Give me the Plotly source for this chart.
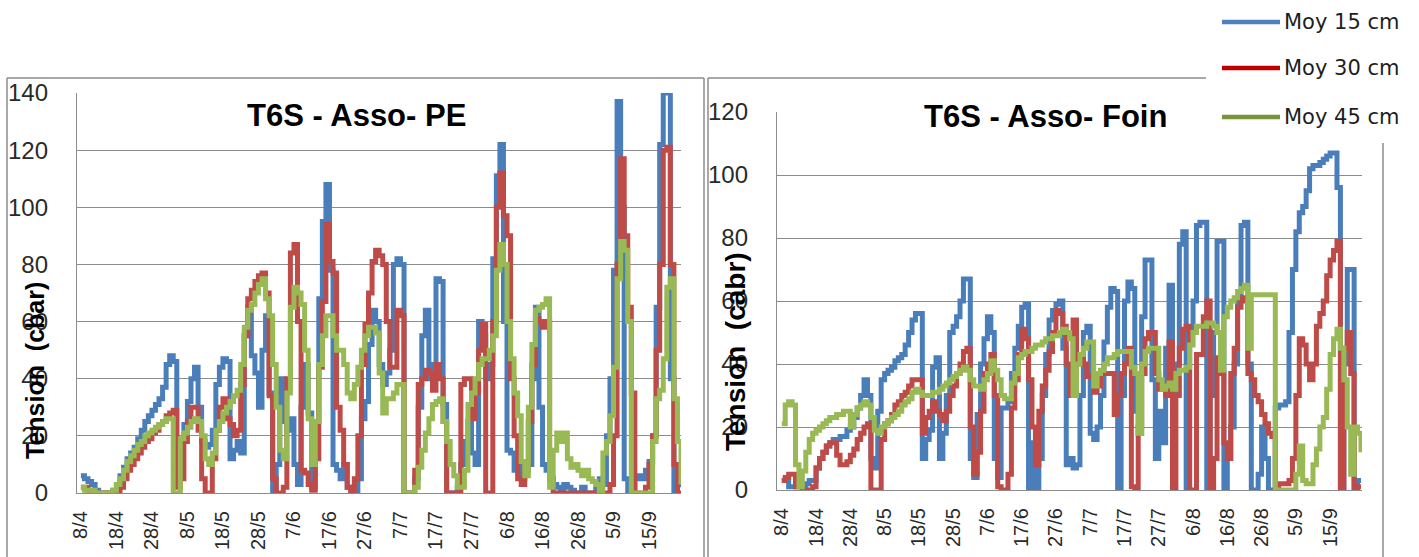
import pandas as pd
import plotly.graph_objects as go

# ---------------- data (daily values from 8/4) ----------------
start_date = "2013-04-08"
n_days = 170
tick_labels = ["8/4", "18/4", "28/4", "8/5", "18/5", "28/5", "7/6", "17/6", "27/6",
               "7/7", "17/7", "27/7", "6/8", "16/8", "26/8", "5/9", "15/9"]
series_names = ["Moy 15 cm", "Moy 30 cm", "Moy 45 cm"]

# T6S - Asso- PE
pe_15 = [6, 5, 4, 3, 1, 0, 0, 0, 0, 1,
         3, 6, 9, 12, 14, 16, 19, 22, 25, 27,
         29, 31, 33, 37, 45, 48, 46, 14, 18, 24,
         32, 40, 44, 30, 18, 16, 17, 22, 38, 44,
         47, 46, 12, 15, 18, 14, 55, 65, 48, 42,
         30, 50, 62, 35, 0, 10, 40, 25, 22, 26,
         10, 3, 30, 45, 28, 2, 25, 68, 95, 108,
         78, 10, 8, 5, 10, 2, 0, 0, 5, 26,
         32, 52, 64, 60, 45, 38, 42, 50, 80, 82,
         80, 0, 0, 0, 5, 30, 55, 64, 40, 45,
         75, 74, 31, 0, 0, 0, 2, 10, 18, 25,
         14, 10, 60, 55, 40, 45, 82, 111, 122, 60,
         15, 14, 8, 10, 5, 8, 10, 40, 65, 30,
         10, 8, 5, 3, 2, 0, 3, 2, 1, 0,
         0, 2, 0, 0, 0, 2, 5, 3, 20, 40,
         78, 137, 100, 5, 0, 2, 5, 6, 5, 8,
         11, 20, 65, 122, 140, 142, 40, 0, 5, 2]
pe_30 = [2, 2, 1, 1, 0, 0, 0, 0, 0, 0,
         0, 2, 5, 8, 10, 12, 14, 16, 18, 19,
         21, 22, 24, 25, 27, 28, 29, 2, 5, 18,
         25, 30, 30, 22, 5, 0, 0, 12, 22, 30,
         33, 26, 24, 20, 22, 38, 55, 68, 71, 74,
         76, 77, 70, 34, 5, 0, 0, 2, 40, 84,
         87, 60, 8, 7, 3, 1, 12, 44, 67, 94,
         81, 77, 30, 22, 10, 2, 0, 5, 20, 45,
         59, 70, 81, 85, 83, 80, 60, 44, 44, 64,
         62, 0, 0, 0, 8, 38, 40, 43, 42, 36,
         45, 40, 25, 0, 0, 0, 0, 38, 40, 40,
         26, 35, 50, 59, 0, 0, 60, 100, 112, 97,
         90, 40, 20, 5, 3, 10, 25, 45, 61, 60,
         58, 60, 5, 0, 0, 0, 0, 0, 0, 0,
         0, 0, 0, 0, 0, 0, 0, 0, 0, 3,
         20, 80, 117, 90, 65, 35, 0, 0, 0, 2,
         10, 20, 50, 80, 120, 121, 80, 10, 0, 0]
pe_45 = [2, 1, 1, 1, 0, 0, 0, 0, 0, 1,
         3, 5, 8, 11, 13, 15, 17, 18, 20, 21,
         22, 23, 24, 25, 26, 26, 0, 0, 19, 21,
         23, 25, 26, 25, 20, 12, 10, 14, 22, 25,
         28, 30, 32, 34, 36, 45, 58, 64, 66, 70,
         73, 75, 68, 62, 45, 30, 15, 12, 35, 65,
         72, 70, 66, 50, 26, 10, 25, 45, 55, 62,
         62, 55, 50, 50, 45, 35, 33, 38, 44, 50,
         55, 58, 58, 56, 42, 28, 33, 33, 35, 38,
         38, 0, 0, 0, 2, 9, 15, 21, 26, 31,
         32, 33, 25, 18, 10, 6, 2, 2, 8, 31,
         35, 40, 45, 47, 47, 50, 55, 78, 87, 80,
         60, 47, 35, 27, 11, 6, 30, 52, 64, 65,
         66, 68, 2, 15, 21, 18, 21, 12, 9, 10,
         8, 6, 8, 5, 4, 3, 0, 14, 18, 27,
         44, 75, 88, 85, 60, 0, 0, 0, 0, 0,
         0, 18, 33, 36, 47, 72, 75, 33, 18, 3]

# T6S - Asso- Foin
foin_15 = [3, 3, 1, 1, 1, 1, 1, 2, 3, 3,
           7, 10, 12, 14, 15, 16, 16, 17, 17, 19,
           20, 23, 26, 30, 35, 30, 10, 7, 25, 35,
           37, 38, 39, 41, 42, 43, 46, 50, 54, 56,
           56, 10, 16, 19, 39, 42, 10, 18, 30, 50,
           52, 55, 60, 67, 67, 10, 4, 24, 40, 48,
           55, 50, 10, 4, 26, 26, 28, 37, 45, 52,
           58, 59, 0, 15, 0, 10, 30, 43, 54, 57,
           59, 60, 45, 8, 10, 7, 8, 30, 50, 52,
           18, 16, 20, 30, 47, 58, 64, 63, 0, 30,
           60, 66, 64, 25, 18, 55, 73, 73, 35, 10,
           25, 15, 45, 65, 30, 40, 78, 82, 0, 50,
           60, 84, 85, 85, 0, 30, 50, 79, 79, 0,
           10, 20, 40, 60, 84, 85, 40, 0, 0, 5,
           20, 10, 0, 0, 26, 27, 27, 28, 50, 70,
           82, 88, 90, 95, 102, 103, 103, 104, 105, 106,
           107, 107, 96, 0, 40, 70, 70, 0, 3, 3]
foin_30 = [3, 4, 5, 5, 1, 1, 0, 0, 0, 1,
           7, 10, 12, 14, 15, 15, 11, 8, 8, 9,
           11, 13, 16, 18, 20, 21, 0, 0, 0, 16,
           21, 22, 24, 27, 28, 30, 31, 33, 35, 35,
           35, 18, 23, 25, 28, 25, 24, 22, 25, 30,
           33, 37, 40, 44, 45, 20, 5, 12, 25, 37,
           40, 43, 30, 1, 0, 0, 5, 26, 35, 43,
           51, 48, 35, 20, 8, 25, 33, 38, 44, 50,
           57, 56, 52, 40, 30, 54, 40, 42, 40, 36,
           36, 31, 33, 37, 37, 37, 37, 24, 30, 37,
           40, 45, 1, 0, 20, 37, 48, 50, 50, 37,
           32, 32, 30, 47, 0, 30, 45, 51, 52, 0,
           0, 43, 43, 55, 60, 0, 10, 42, 37, 15,
           10, 37, 45, 58, 61, 60, 37, 35, 30, 28,
           24, 21, 18, 17, 0, 2, 2, 2, 3, 10,
           30, 48, 46, 40, 35, 40, 52, 56, 60, 68,
           73, 76, 79, 0, 45, 50, 37, 0, 1, 1]
foin_45 = [21, 27, 28, 27, 8, 1, 6, 12, 16, 18,
           19, 20, 21, 22, 23, 23, 24, 24, 25, 25,
           20, 24, 26, 27, 28, 27, 23, 19, 18, 20,
           21, 22, 23, 24, 25, 27, 28, 29, 31, 32,
           31, 30, 30, 30, 31, 31, 32, 33, 34, 35,
           36, 37, 38, 39, 38, 35, 33, 33, 32, 35,
           37, 41, 38, 35, 30, 29, 29, 34, 37, 42,
           43, 44, 44, 45, 46, 46, 47, 48, 48, 49,
           49, 50, 51, 50, 48, 30, 40, 43, 45, 47,
           47, 33, 37, 38, 40, 42, 42, 43, 44, 44,
           44, 44, 39, 37, 18, 40, 44, 45, 45, 45,
           35, 32, 33, 34, 32, 37, 38, 38, 39, 46,
           50, 52, 52, 52, 53, 53, 52, 50, 38, 55,
           58, 60, 61, 63, 64, 65, 45, 62, 62, 62,
           62, 62, 62, 62, 0, 0, 0, 0, 0, 0,
           5, 14, 3, 2, 2, 8, 13, 20, 23, 32,
           43, 48, 51, 45, 35, 20, 5, 20, 18, 12]

# ---------------- styling ----------------
W, H = 1419, 557
plot_colors = ["#4A7EBB", "#BE4B48", "#98B954"]
legend_colors = ["#4F81BD", "#C00000", "#77933C"]
grid_col = "#8C8C8C"
border_col = "#8C8C8C"
txt_col = "#2A2A2A"
FONT = "Liberation Sans, Arial, sans-serif"


def fx(x):
    return x / W


def fy(y):
    return 1 - y / H


dates = pd.date_range(start_date, periods=n_days, freq="D")
tick_vals = [dates[i] for i in range(0, 10 * len(tick_labels), 10)]
t0 = pd.Timestamp(start_date)

fig = go.Figure()
for vals, col, nm in zip([pe_15, pe_30, pe_45], plot_colors, series_names):
    fig.add_trace(go.Scatter(x=dates, y=vals, mode="lines", name=nm,
                             line=dict(color=col, width=5, shape="hv"),
                             xaxis="x", yaxis="y", showlegend=False))
for vals, col, nm in zip([foin_15, foin_30, foin_45], plot_colors, series_names):
    fig.add_trace(go.Scatter(x=dates, y=vals, mode="lines", name=nm,
                             line=dict(color=col, width=5, shape="hv"),
                             xaxis="x2", yaxis="y2", showlegend=False))

xcommon = dict(type="date", tickvals=tick_vals, ticktext=tick_labels, tickangle=-90,
               showgrid=False, zeroline=False, showline=True, linecolor=grid_col,
               linewidth=1.3, ticks="", tickfont=dict(family=FONT, size=20, color=txt_col),
               ticklabelstandoff=9, fixedrange=True, automargin=False)
ycommon = dict(showgrid=True, gridcolor=grid_col, gridwidth=1.3, zeroline=False,
               showline=True, linecolor=grid_col, linewidth=1.3, ticks="", dtick=20,
               tickfont=dict(family=FONT, size=24, color=txt_col),
               ticklabelstandoff=23, fixedrange=True, automargin=False)

fig.update_layout(
    width=W, height=H,
    margin=dict(l=0, r=0, t=0, b=0, pad=0, autoexpand=False),
    paper_bgcolor="white", plot_bgcolor="white", showlegend=False,
    xaxis=dict(xcommon, domain=[fx(77), fx(681)], anchor="y",
               range=[t0 - pd.Timedelta(days=1.1), t0 + pd.Timedelta(days=169.0)]),
    yaxis=dict(ycommon, domain=[fy(493), fy(93)], anchor="x", range=[0, 140]),
    xaxis2=dict(xcommon, domain=[fx(777), fx(1362)], anchor="y2",
                range=[t0 - pd.Timedelta(days=1.4), t0 + pd.Timedelta(days=169.3)]),
    yaxis2=dict(ycommon, domain=[fy(490), fy(112)], anchor="x2", range=[0, 120]),
)

# chart-area borders
shapes = []
def seg(x0, y0, x1, y1, color=border_col, width=1.5):
    shapes.append(dict(type="line", xref="paper", yref="paper",
                       x0=fx(x0), y0=fy(y0), x1=fx(x1), y1=fy(y1),
                       line=dict(color=color, width=width)))

seg(7, 78, 704, 78)
seg(7, 78, 7, 560)
seg(704, 78, 704, 560)
seg(708, 78, 1206, 78)
seg(708, 78, 708, 560)
seg(1383, 143, 1383, 560)

# legend (pasted legend, top right)
annotations = []
for i, (nm, col) in enumerate(zip(series_names, legend_colors)):
    yy = [22, 68, 117][i]
    seg(1222, yy, 1280, yy, color=col, width=4.5)
    annotations.append(dict(text=nm, xref="paper", yref="paper", x=fx(1282), y=fy(yy),
                            xanchor="left", yanchor="middle", showarrow=False,
                            font=dict(family="DejaVu Sans", size=21, color="#1E1E1E")))

# titles
annotations.append(dict(text="<b>T6S - Asso- PE</b>", xref="paper", yref="paper",
                        x=fx(356), y=fy(116), showarrow=False, xanchor="center",
                        yanchor="middle", font=dict(family=FONT, size=31, color="black")))
annotations.append(dict(text="<b>T6S - Asso- Foin</b>", xref="paper", yref="paper",
                        x=fx(1045), y=fy(117), showarrow=False, xanchor="center",
                        yanchor="middle", font=dict(family=FONT, size=31, color="black")))
# y-axis titles
annotations.append(dict(text="<b>Tension  (cbar)</b>", xref="paper", yref="paper",
                        x=fx(35), y=fy(371), showarrow=False, textangle=-90,
                        xanchor="center", yanchor="middle",
                        font=dict(family=FONT, size=25, color="black")))
annotations.append(dict(text="<b>Tension  (cabr)</b>", xref="paper", yref="paper",
                        x=fx(735), y=fy(352), showarrow=False, textangle=-90,
                        xanchor="center", yanchor="middle",
                        font=dict(family=FONT, size=28, color="black")))

fig.update_layout(shapes=shapes, annotations=annotations)

page_fix = """
var st = document.createElement('style');
st.innerHTML = 'html,body{margin:0!important;padding:0!important;overflow:hidden;}';
document.head.appendChild(st);
"""
fig.write_html("out.html", config={"displayModeBar": False},
               post_script=page_fix)
